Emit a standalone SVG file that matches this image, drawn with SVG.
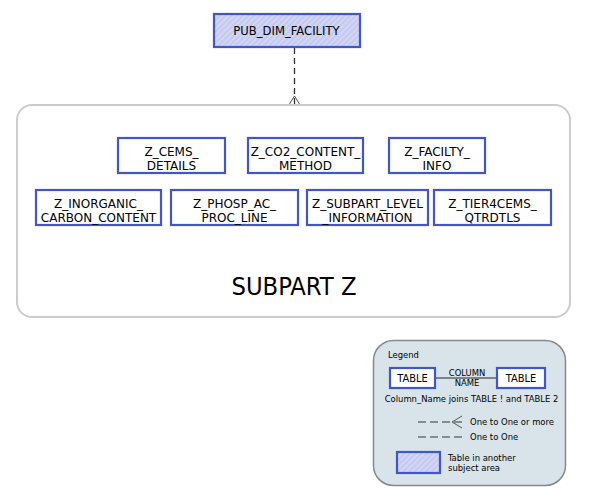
<svg xmlns="http://www.w3.org/2000/svg" width="591" height="501" viewBox="0 0 591 501">
<defs>
<pattern id="hatch" width="4" height="4" patternUnits="userSpaceOnUse" patternTransform="rotate(45)">
<rect width="4" height="4" fill="#c5caf0"/>
<rect width="1.3" height="4" fill="#d9dcf6"/>
</pattern>
<style>
.t{font-family:"DejaVu Sans",sans-serif;fill:#000;text-anchor:middle}
.n{font-size:12px}
.c{font-family:"DejaVu Sans Condensed","DejaVu Sans",sans-serif}
.box{fill:#fff;stroke:#4256cc;stroke-width:2.2}
.ext{fill:url(#hatch);stroke:#4256cc;stroke-width:2.2}
.lg{font-size:9.4px}
.dl{stroke:#333;stroke-width:1.1;stroke-dasharray:8,4;fill:none}
</style>
</defs>
<rect width="591" height="501" fill="#fff"/>
<g id="subpart-z">
<rect x="17" y="105" width="553" height="212" rx="15" ry="15" fill="#fff" stroke="#cccccc" stroke-width="2"/>
<text class="t c" x="294" y="295" font-size="25.3">SUBPART Z</text>
</g>
<g id="connectors">
<line x1="294.5" y1="48" x2="294.5" y2="104" stroke="#333" stroke-width="1.3" stroke-dasharray="6,4"/>
<polyline points="289.5,104 294.5,96 299.5,104" fill="none" stroke="#555" stroke-width="1"/>
</g>
<g id="PUB_DIM_FACILITY">
<rect class="ext" x="214" y="14" width="146" height="33"/>
<text class="t" x="286.5" y="35" font-size="11.6">PUB_DIM_FACILITY</text>
</g>
<g id="Z_CEMS_DETAILS">
<rect class="box" x="118" y="138" width="107" height="35"/>
<text class="t n" x="171.5" y="155.5">Z_CEMS_</text>
<text class="t n" x="171.5" y="169.5">DETAILS</text>
</g>
<g id="Z_CO2_CONTENT_METHOD">
<rect class="box" x="248" y="138" width="115" height="35"/>
<text class="t n" x="305.5" y="155.5">Z_CO2_CONTENT_</text>
<text class="t n" x="305.5" y="169.5">METHOD</text>
</g>
<g id="Z_FACILTY_INFO">
<rect class="box" x="389" y="138" width="96" height="35"/>
<text class="t n" x="437" y="155.5">Z_FACILTY_</text>
<text class="t n" x="437" y="169.5">INFO</text>
</g>
<g id="Z_INORGANIC_CARBON_CONTENT">
<rect class="box" x="36" y="190" width="125" height="35"/>
<text class="t n" x="98.5" y="207.5">Z_INORGANIC_</text>
<text class="t n" x="98.5" y="221.5">CARBON_CONTENT</text>
</g>
<g id="Z_PHOSP_AC_PROC_LINE">
<rect class="box" x="171" y="190" width="127" height="35"/>
<text class="t n" x="234.5" y="207.5">Z_PHOSP_AC_</text>
<text class="t n" x="234.5" y="221.5">PROC_LINE</text>
</g>
<g id="Z_SUBPART_LEVEL_INFORMATION">
<rect class="box" x="307" y="190" width="121" height="35"/>
<text class="t n" x="367.5" y="207.5">Z_SUBPART_LEVEL</text>
<text class="t n" x="367.5" y="221.5">_INFORMATION</text>
</g>
<g id="Z_TIER4CEMS_QTRDTLS">
<rect class="box" x="434" y="190" width="117" height="35"/>
<text class="t n" x="492.5" y="207.5">Z_TIER4CEMS_</text>
<text class="t n" x="492.5" y="221.5">QTRDTLS</text>
</g>
<g id="legend">
<rect x="373.5" y="340.5" width="192" height="145" rx="20" ry="20" fill="#d8e4ea" stroke="#888" stroke-width="1.5"/>
<text class="t c lg" x="388" y="358" style="text-anchor:start">Legend</text>
<line x1="435" y1="378" x2="497" y2="378" stroke="#222" stroke-width="1"/>
<rect class="box" x="390" y="368" width="45" height="20"/>
<text class="t c" x="412.5" y="382" font-size="11">TABLE</text>
<rect class="box" x="497" y="368" width="48" height="20"/>
<text class="t c" x="521" y="382" font-size="11">TABLE</text>
<text class="t c lg" x="467" y="376">COLUMN</text>
<text class="t c lg" x="467" y="386">NAME</text>
<text class="t c lg" x="471.5" y="401.5">Column_Name joins TABLE ! and TABLE 2</text>
<line class="dl" x1="418" y1="422" x2="462" y2="422"/>
<polyline points="462,416 452,422 462,428" fill="none" stroke="#555" stroke-width="1"/>
<text class="t c lg" x="470" y="425" style="text-anchor:start">One to One or more</text>
<line class="dl" x1="418" y1="437" x2="462" y2="437"/>
<text class="t c lg" x="470" y="440" style="text-anchor:start">One to One</text>
<rect class="ext" x="397" y="452" width="43" height="21"/>
<text class="t c lg" x="448" y="461" style="text-anchor:start">Table in another</text>
<text class="t c lg" x="448" y="471" style="text-anchor:start">subject area</text>
</g>
</svg>
